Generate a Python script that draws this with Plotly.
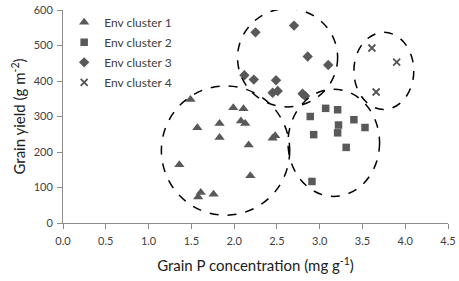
import plotly.graph_objects as go

# ---- data ----
c1_x = [1.49, 1.99, 2.11, 1.57, 1.83, 2.08, 2.13, 1.83, 2.17, 1.36, 2.19, 1.61, 1.58, 1.76, 2.48, 2.45]
c1_y = [348, 325, 322, 268, 280, 287, 280, 241, 220, 164, 133, 86, 73, 81, 246, 239]

c2_x = [3.07, 3.21, 2.89, 3.40, 3.22, 3.53, 2.93, 3.21, 3.31, 2.91]
c2_y = [323, 319, 300, 291, 276, 269, 249, 254, 213, 117]

c3_x = [2.70, 2.25, 2.86, 3.10, 2.12, 2.23, 2.49, 2.45, 2.51, 2.80, 2.83]
c3_y = [556, 537, 469, 445, 416, 404, 402, 367, 372, 364, 358]

c4_x = [3.61, 3.90, 3.66]
c4_y = [493, 453, 369]

series_names = ["Env cluster 1", "Env cluster 2", "Env cluster 3", "Env cluster 4"]

# cluster ellipse bounds (x0, x1, y0, y1) in data units
ellipses = [
    (1.15, 2.65, 22, 386),
    (2.63, 3.70, 75, 377),
    (2.04, 3.21, 327, 604),
    (3.40, 4.10, 320, 537),
]

x_ticks = [0.0, 0.5, 1.0, 1.5, 2.0, 2.5, 3.0, 3.5, 4.0, 4.5]
y_ticks = [0, 100, 200, 300, 400, 500, 600]

FONT = "Lato, 'Open Sans', sans-serif"
MCOL = "#595959"

fig = go.Figure()
fig.add_trace(go.Scatter(x=c1_x, y=c1_y, mode="markers", name=series_names[0], legendgroup="a",
                         marker=dict(symbol="triangle-up", size=9, color=MCOL)))
fig.add_trace(go.Scatter(x=c2_x, y=c2_y, mode="markers", name=series_names[1], legendgroup="b",
                         marker=dict(symbol="square", size=7.5, color=MCOL)))
fig.add_trace(go.Scatter(x=c3_x, y=c3_y, mode="markers", name=series_names[2], legendgroup="c",
                         marker=dict(symbol="diamond", size=8, color=MCOL)))
fig.add_trace(go.Scatter(x=c4_x, y=c4_y, mode="markers", name=series_names[3], legendgroup="d",
                         marker=dict(symbol="x-thin", size=7, color="#555555",
                                     line=dict(width=1.8, color="#555555"))))

for (x0, x1, y0, y1) in ellipses:
    fig.add_shape(type="circle", xref="x", yref="y", x0=x0, x1=x1, y0=y0, y1=y1,
                  line=dict(color="black", width=1.5, dash="dash"), layer="above")

axis_common = dict(showgrid=False, zeroline=False, showline=True, linecolor="#8c8c8c", linewidth=1,
                   ticks="outside", ticklen=5, tickcolor="#8c8c8c", automargin=False,
                   tickfont=dict(family=FONT, size=11, color="#404040"))

fig.update_layout(
    width=459, height=281,
    margin=dict(l=63, r=11, t=8, b=58),
    paper_bgcolor="white", plot_bgcolor="white",
    font=dict(family=FONT, color="#404040"),
    showlegend=True,
    legend=dict(x=0.003, y=1.01, xanchor="left", yanchor="top", bgcolor="rgba(0,0,0,0)",
                font=dict(family=FONT, size=12, color="#404040"),
                traceorder="grouped", tracegroupgap=1, itemwidth=30),
    xaxis=dict(range=[0, 4.5], tickvals=x_ticks, ticktext=[f"{v:.1f}" for v in x_ticks],
               ticklabelstandoff=3,
               title=dict(text="Grain P concentration (mg g<sup>-1</sup>)",
                          font=dict(family=FONT, size=15, color="#202020"), standoff=14),
               **axis_common),
    yaxis=dict(range=[0, 600], tickvals=y_ticks, ticklabelstandoff=2,
               title=dict(text="Grain yield (g m<sup>-2</sup>)",
                          font=dict(family=FONT, size=15, color="#202020"), standoff=4),
               **axis_common),
)

# remove the browser's default 8px body margin so the figure sits at the page origin
fig.write_html("out.html", config={"displayModeBar": False},
               post_script="document.body.style.margin='0';")
